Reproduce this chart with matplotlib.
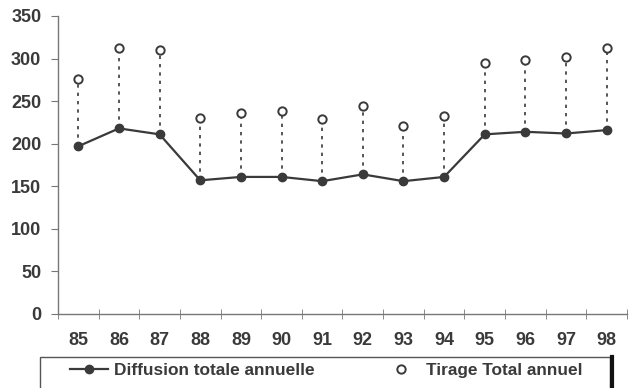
import numpy as np
import matplotlib.pyplot as plt
from matplotlib.lines import Line2D
from matplotlib.patches import Rectangle

annees = ['85', '86', '87', '88', '89', '90', '91', '92', '93', '94', '95', '96', '97', '98']
diffusion = [197, 218, 211, 157, 161, 161, 156, 164, 156, 161, 211, 214, 212, 216]
tirage = [276, 312, 310, 230, 236, 238, 229, 244, 221, 232, 295, 298, 302, 313]

gris = '#3a3a3a'
plt.rcParams['font.family'] = ['Liberation Sans', 'DejaVu Sans']
plt.rcParams['font.weight'] = 'bold'

fig = plt.figure(figsize=(6.29, 3.88), dpi=100)
ax = fig.add_axes([58/629, 1-314/388, 569/629, 298/388])

x = np.arange(len(annees))
ax.vlines(x, diffusion, tirage, colors=gris, linestyles=(0, (2, 3)), linewidth=1.2)
ax.plot(x, diffusion, color=gris, linewidth=1.6, marker='o', markersize=6,
        label='Diffusion totale annuelle')
ax.plot(x, tirage, linestyle='none', marker='o', markersize=6, markerfacecolor='white',
        markeredgecolor=gris, markeredgewidth=1.4, label='Tirage Total annuel')

ax.set_xlim(-0.5, len(annees) - 0.5)
ax.set_ylim(0, 350)
ax.set_yticks(range(0, 351, 50))
ax.set_xticks(x)
ax.set_xticklabels(annees)
ax.set_xticks(np.arange(-0.5, len(annees), 1), minor=True)
ax.tick_params(axis='x', which='major', length=0, pad=13, labelsize=13, colors=gris)
ax.tick_params(axis='x', which='minor', length=7, direction='inout', color='#777777')
ax.tick_params(axis='y', length=5, labelsize=13, colors=gris, pad=7)
ax.tick_params(axis='y', color='#777777')
for t in ax.get_yticklabels() + ax.get_xticklabels():
    t.set_fontweight('bold')

for s in ['top', 'right']:
    ax.spines[s].set_visible(False)
for s in ['left', 'bottom']:
    ax.spines[s].set_color('#777777')
    ax.spines[s].set_linewidth(1)

# cadre de la legende (coupe en bas)
fig.add_artist(Rectangle((40/629, -0.05), 570/629, 0.05 + 1-357/388, fill=False,
                         edgecolor='#555555', linewidth=1, transform=fig.transFigure))
leg = fig.legend(loc='upper left', bbox_to_anchor=(70/629, 1-363/388), ncol=2,
                 borderaxespad=0, borderpad=0, frameon=False,
                 prop={'size': 12.4, 'weight': 'bold'}, handlelength=2.2,
                 handletextpad=0.35, columnspacing=3.9)
for t in leg.get_texts():
    t.set_color(gris)

fig.add_artist(Line2D([612/629, 612/629], [0, 1-357/388], color='#111111', linewidth=3,
                      transform=fig.transFigure))

fig.savefig('out.png', dpi=100)
